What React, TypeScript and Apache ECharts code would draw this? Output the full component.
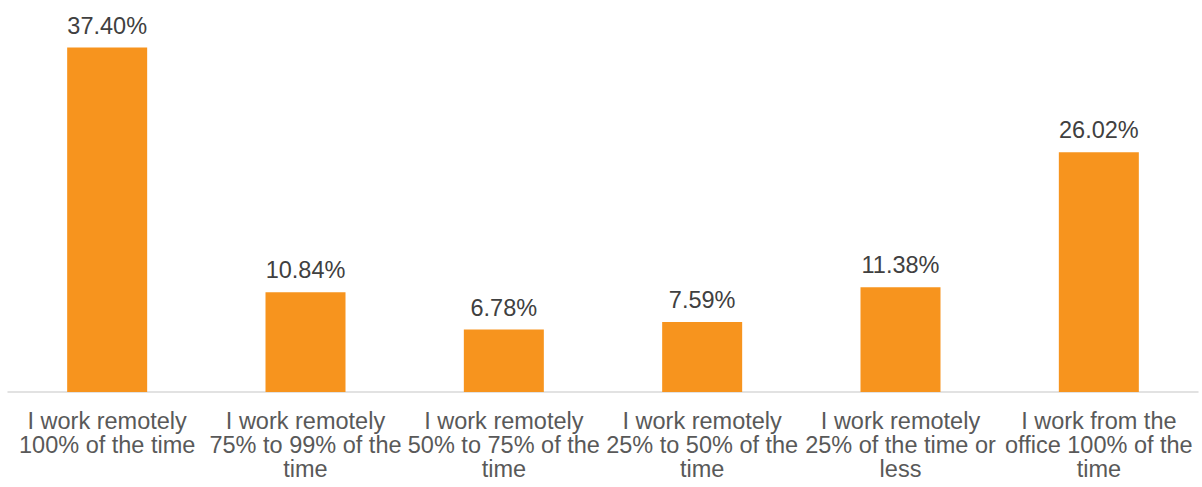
import React, { useEffect, useRef } from "react";
import * as echarts from "echarts";

// Survey answers: how much of the time people work remotely
const categories = [
  "I work remotely\n100% of the time",
  "I work remotely\n75% to 99% of the\ntime",
  "I work remotely\n50% to 75% of the\ntime",
  "I work remotely\n25% to 50% of the\ntime",
  "I work remotely\n25% of the time or\nless",
  "I work from the\noffice 100% of the\ntime",
];
const shares = [37.4, 10.84, 6.78, 7.59, 11.38, 26.02];

const FONT = "'Liberation Sans', Arial, Helvetica, sans-serif";

export default function App() {
  const ref = useRef<HTMLDivElement>(null);

  useEffect(() => {
    if (!ref.current) return;
    const chart = echarts.init(ref.current, undefined, { renderer: "svg" });
    chart.setOption({
      animation: false,
      backgroundColor: "#ffffff",
      grid: { left: 8, right: 4, top: 23.6, bottom: 95, containLabel: false },
      xAxis: {
        type: "category",
        data: categories,
        axisLine: { show: true, lineStyle: { color: "#d9d9d9", width: 1.5 } },
        axisTick: { show: false },
        axisLabel: {
          interval: 0,
          margin: 17,
          color: "#595959",
          fontFamily: FONT,
          fontSize: 23.5,
          lineHeight: 24,
          align: "center",
        },
      },
      yAxis: {
        type: "value",
        min: 0,
        max: 40,
        show: false,
        splitLine: { show: false },
      },
      series: [
        {
          type: "bar",
          data: shares,
          barWidth: 80,
          itemStyle: { color: "#F7941E" },
          label: {
            show: true,
            position: "top",
            distance: 10,
            color: "#404040",
            fontFamily: FONT,
            fontSize: 23.5,
            formatter: (p: any) => `${Number(p.value).toFixed(2)}%`,
          },
        },
      ],
    });
    return () => chart.dispose();
  }, []);

  return (
    <div
      ref={ref}
      style={{ position: "fixed", left: 0, top: 0, width: 1202, height: 487, background: "#fff" }}
    />
  );
}
